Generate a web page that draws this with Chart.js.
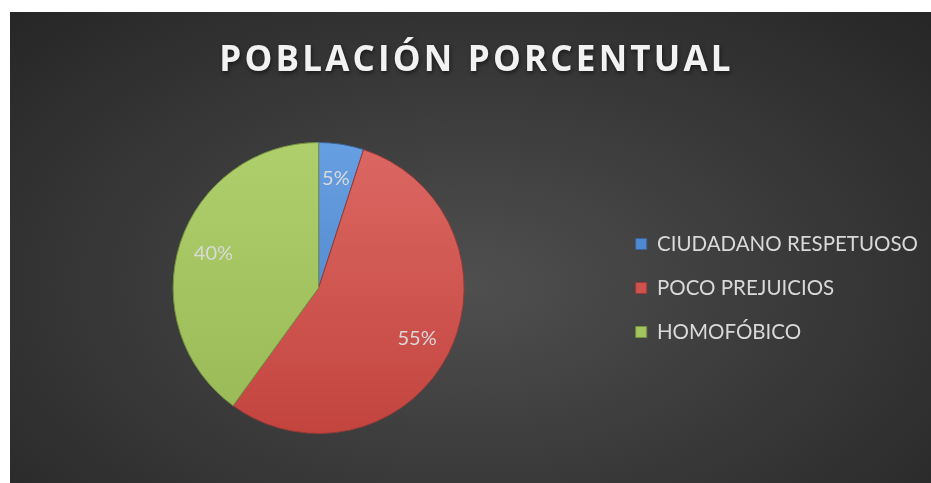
<!DOCTYPE html>
<html>
<head>
<meta charset="utf-8">
<script src="https://cdn.jsdelivr.net/npm/chart.js@4.4.1/dist/chart.umd.min.js"></script>
<style>
  html, body { margin: 0; padding: 0; background: #ffffff; }
  #panel {
    position: absolute; left: 10px; top: 12px; width: 921px; height: 471px;
    background: radial-gradient(ellipse farthest-corner at 50% 58%, #4f4f4f 0%, #3c3c3c 45%, #262626 100%);
  }
  canvas { display: block; }
</style>
</head>
<body>
<div id="panel"><canvas id="c" width="921" height="471"></canvas></div>
<script>
// ---- data ----
const titleText = 'POBLACIÓN PORCENTUAL';
const categories = ['CIUDADANO RESPETUOSO', 'POCO PREJUICIOS', 'HOMOFÓBICO'];
const values = [5, 55, 40];

// ---- styles ----
const baseColors = ['#5189d0', '#cf524d', '#a3c45f'];
const topColors = ['#67a0e2', '#dc6863', '#aecf6c'];
const bottomColors = ['#477ac0', '#c3443f', '#98b955'];
const edgeColors = ['#3a6399', '#963a36', '#74903f'];

function sliceFill(ctx) {
  const chart = ctx.chart;
  const area = chart.chartArea;
  if (!area) return baseColors[ctx.dataIndex];
  const g = chart.ctx.createLinearGradient(0, area.top, 0, area.bottom);
  g.addColorStop(0, topColors[ctx.dataIndex]);
  g.addColorStop(1, bottomColors[ctx.dataIndex]);
  return g;
}

const labelPlugin = {
  id: 'pctLabels',
  afterDatasetsDraw(chart) {
    const ctx = chart.ctx;
    const meta = chart.getDatasetMeta(0);
    ctx.save();
    ctx.font = '20px Lato';
    ctx.fillStyle = '#d9d9d9';
    ctx.textAlign = 'center';
    ctx.textBaseline = 'middle';
    meta.data.forEach((arc, i) => {
      const p = arc.getProps(['x', 'y', 'startAngle', 'endAngle', 'outerRadius'], true);
      const mid = (p.startAngle + p.endAngle) / 2;
      const r = p.outerRadius * 0.76;
      ctx.fillText(values[i] + '%', p.x + Math.cos(mid) * r, p.y + Math.sin(mid) * r);
    });
    ctx.restore();
  }
};

const chart = new Chart(document.getElementById('c'), {
  type: 'pie',
  data: {
    labels: categories,
    datasets: [{
      data: values,
      backgroundColor: sliceFill,
      borderColor: edgeColors,
      borderWidth: 1
    }]
  },
  options: {
    responsive: false,
    animation: false,
    layout: { padding: { left: 15, right: 3, top: 0, bottom: 49 } },
    plugins: {
      tooltip: { enabled: false },
      title: {
        display: true,
        text: titleText,
        color: '#f2f2f2',
        font: { family: 'Open Sans', size: 35, weight: 'bold', lineHeight: 1.2 },
        padding: { top: 28, bottom: 60 }
      },
      legend: {
        position: 'right',
        fullSize: false,
        align: 'center',
        labels: {
          color: '#d9d9d9',
          font: { family: 'Lato', size: 20.5 },
          boxWidth: 11,
          boxHeight: 11,
          padding: 23.5,
          generateLabels(chart) {
            return categories.map((c, i) => ({
              text: c,
              fillStyle: baseColors[i],
              strokeStyle: edgeColors[i],
              lineWidth: 1,
              fontColor: '#d9d9d9',
              hidden: false,
              index: i
            }));
          }
        }
      }
    }
  },
  plugins: [labelPlugin]
});

// letter-spaced, shadowed title
const tb = chart.titleBlock;
const origDraw = tb.draw.bind(tb);
tb.draw = function (area) {
  const ctx = chart.ctx;
  ctx.save();
  ctx.letterSpacing = '3.2px';
  ctx.shadowColor = 'rgba(0,0,0,0.55)';
  ctx.shadowBlur = 4;
  ctx.shadowOffsetX = 1;
  ctx.shadowOffsetY = 2;
  origDraw(area);
  ctx.restore();
};
chart.draw();
</script>
</body>
</html>
